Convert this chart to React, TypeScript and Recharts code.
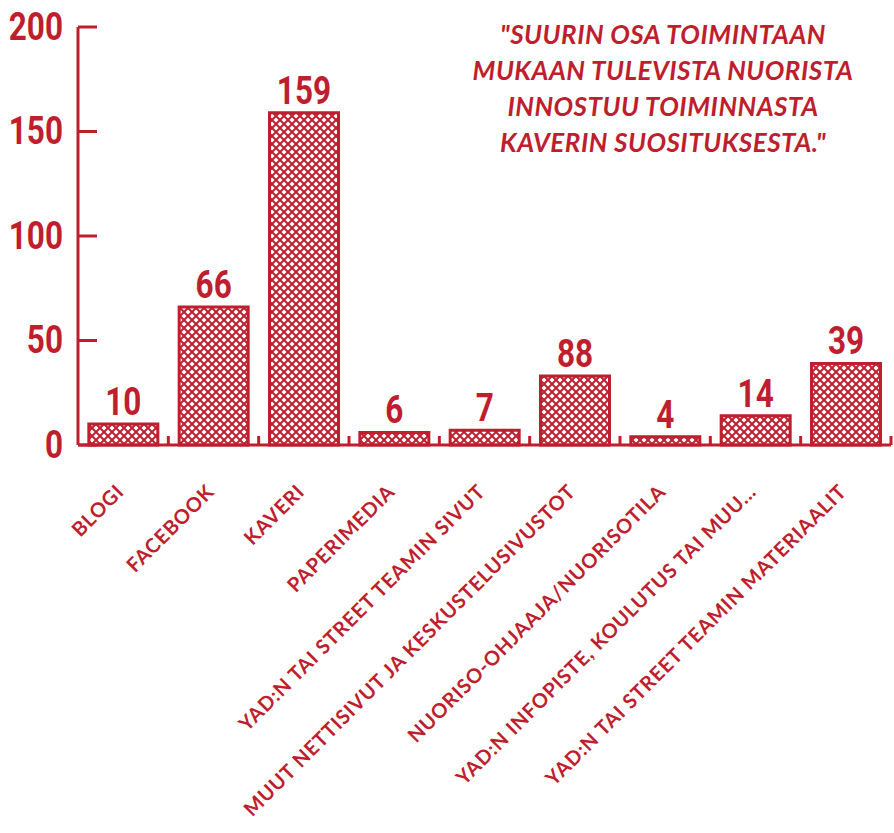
import { BarChart, Bar, XAxis, YAxis, LabelList } from 'recharts'

const RED = '#be1e2d'

const categories = [
  'BLOGI',
  'FACEBOOK',
  'KAVERI',
  'PAPERIMEDIA',
  "YAD:N TAI STREET TEAMIN SIVUT",
  'MUUT NETTISIVUT JA KESKUSTELUSIVUSTOT',
  'NUORISO-OHJAAJA/NUORISOTILA',
  'YAD:N INFOPISTE, KOULUTUS TAI MUU...',
  'YAD:N TAI STREET TEAMIN MATERIAALIT',
]
const values = [10, 66, 159, 6, 7, 33, 4, 14, 39]
const valueLabels = ['10', '66', '159', '6', '7', '88', '4', '14', '39']
const yTicks = [0, 50, 100, 150, 200]
const quoteLines = [
  '"SUURIN OSA TOIMINTAAN',
  'MUKAAN TULEVISTA NUORISTA',
  'INNOSTUU TOIMINNASTA',
  'KAVERIN SUOSITUKSESTA."',
]

const data = categories.map((name, i) => ({ name, value: values[i], label: valueLabels[i] }))

const numFont = 'Roboto, "DejaVu Sans", sans-serif'
const handFont = 'Lato, "Open Sans", sans-serif'
const SQUEEZE = 0.83

// condensed number text: Roboto bold squeezed horizontally
function NumText({ x, y, anchor, baseline, children }: any) {
  return (
    <text transform={`translate(${x}, ${y}) scale(${SQUEEZE}, 1)`} textAnchor={anchor}
      dominantBaseline={baseline} fill={RED} fontFamily={numFont} fontWeight="bold" fontSize={38}>
      {children}
    </text>
  )
}

function YTick(props: any) {
  const { x, y, payload } = props
  return (
    <g>
      <line x1={x} x2={x + 19} y1={y} y2={y} stroke={RED} strokeWidth={3} />
      <NumText x={x - 15} y={y} anchor="end" baseline="central">{payload.value}</NumText>
    </g>
  )
}

function XTick(props: any) {
  const { x, y, payload, width, visibleTicksCount } = props
  const half = (Number(width) || 814) / (visibleTicksCount || 9) / 2
  const tx = x + 2
  const ty = y + 48
  return (
    <g>
      <line x1={x + half} x2={x + half} y1={y} y2={y - 9} stroke={RED} strokeWidth={3} />
      <text x={tx} y={ty} textAnchor="end" transform={`rotate(-45, ${tx}, ${ty})`}
        fill={RED} fontFamily={handFont} fontWeight="bold" fontSize={20} letterSpacing={0.8}>{payload.value}</text>
    </g>
  )
}

function ValueLabel(props: any) {
  const { x, y, width, value } = props
  return <NumText x={x + width / 2} y={y - 9} anchor="middle" baseline="auto">{value}</NumText>
}

export default function App() {
  return (
    <div style={{ position: 'relative', width: 894, height: 833, background: '#fff' }}>
      <style>{'body{margin:0}'}</style>
      <svg width={0} height={0} style={{ position: 'absolute' }}>
        <defs>
          <pattern id="hatch" width={8} height={8} patternUnits="userSpaceOnUse">
            <rect width={8} height={8} fill="#fff" />
            <path d="M0,0 L8,8 M8,0 L0,8" stroke={RED} strokeWidth={2} />
          </pattern>
        </defs>
      </svg>
      <BarChart width={894} height={833} data={data} margin={{ top: 27, right: 3, left: 0, bottom: 0 }}
        barCategoryGap="12%">
        <XAxis dataKey="name" height={388} interval={0} tickSize={0} tickMargin={0}
          axisLine={{ stroke: RED, strokeWidth: 3 }} tickLine={false} tick={<XTick />} />
        <YAxis width={78} domain={[0, 200]} ticks={yTicks} tickSize={0} tickMargin={0}
          axisLine={{ stroke: RED, strokeWidth: 3 }} tickLine={false} tick={<YTick />} />
        <Bar dataKey="value" fill="url(#hatch)" stroke={RED} strokeWidth={3} isAnimationActive={false}>
          <LabelList dataKey="label" content={<ValueLabel />} />
        </Bar>
      </BarChart>
      <div style={{ position: 'absolute', left: 463, top: 16, width: 400, textAlign: 'center',
        color: RED, fontFamily: handFont, fontWeight: 'bold', fontStyle: 'italic', fontSize: 26,
        lineHeight: '36px', letterSpacing: 0.5 }}>
        {quoteLines.map((l, i) => <div key={i}>{l}</div>)}
      </div>
    </div>
  )
}
